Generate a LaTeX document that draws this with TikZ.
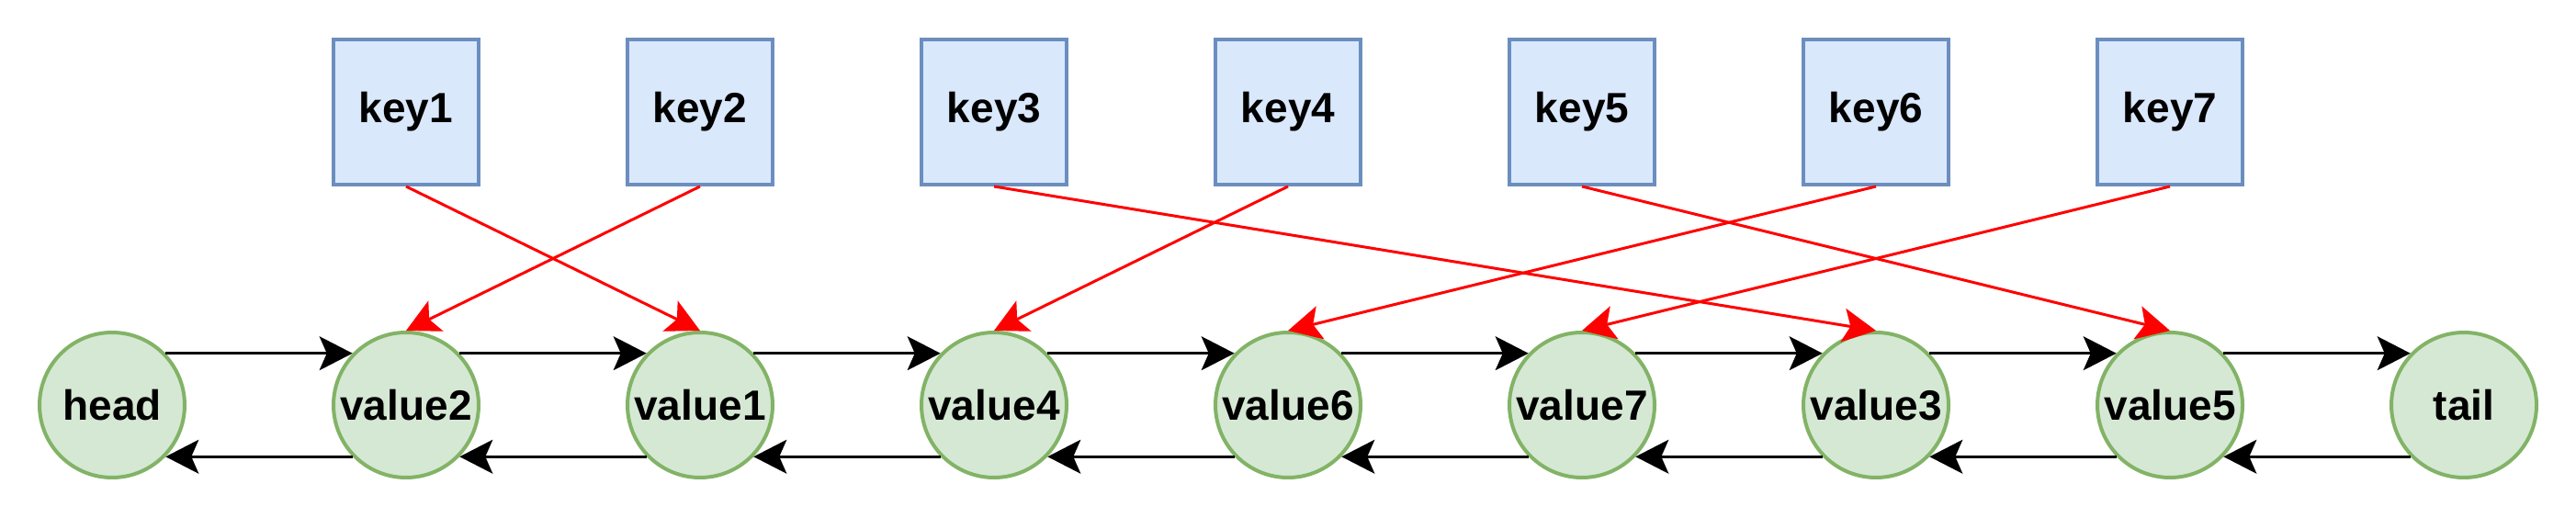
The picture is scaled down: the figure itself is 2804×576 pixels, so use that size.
\documentclass[tikz,border=0pt]{standalone}
\usepackage{fontspec}
\setmainfont{Liberation Sans}
\usetikzlibrary{arrows.meta}
\definecolor{keyfill}{HTML}{DAE8FC}
\definecolor{keydraw}{HTML}{6C8EBF}
\definecolor{valfill}{HTML}{D5E8D4}
\definecolor{valdraw}{HTML}{82B366}
\definecolor{ptrred}{HTML}{FF0000}
\begin{document}
\begin{tikzpicture}[x=0.25pt,y=-0.25pt,
  lbl/.style={font=\fontsize{11.5}{13}\selectfont\bfseries, text=black},
  keybox/.style={lbl, draw=keydraw, fill=keyfill, line width=0.9pt, minimum width=39.6pt, minimum height=39.6pt, inner sep=0pt},
  valnode/.style={lbl, circle, draw=valdraw, fill=valfill, line width=1pt, minimum size=39.5pt, inner sep=0pt},
  link/.style={line width=0.75pt, draw=black, -{Stealth[length=9pt,width=9.2pt,inset=2pt]}},
  ptr/.style={line width=0.75pt, draw=ptrred, -{Stealth[length=9pt,width=9.2pt,inset=2pt,fill=ptrred]}}]
\useasboundingbox (0,0) rectangle (2804,576);
% list nodes
\node[valnode] (head) at (122,441) {head};
\node[valnode] (v2) at (442,441) {value2};
\node[valnode] (v1) at (762,441) {value1};
\node[valnode] (v4) at (1082,441) {value4};
\node[valnode] (v6) at (1402,441) {value6};
\node[valnode] (v7) at (1722,441) {value7};
\node[valnode] (v3) at (2042,441) {value3};
\node[valnode] (v5) at (2362,441) {value5};
\node[valnode] (tail) at (2682,441) {tail};
% keys
\node[keybox] (k1) at (442,122) {key1};
\node[keybox] (k2) at (762,122) {key2};
\node[keybox] (k3) at (1082,122) {key3};
\node[keybox] (k4) at (1402,122) {key4};
\node[keybox] (k5) at (1722,122) {key5};
\node[keybox] (k6) at (2042,122) {key6};
\node[keybox] (k7) at (2362,122) {key7};
% forward / backward links
\foreach \a/\b in {head/v2, v2/v1, v1/v4, v4/v6, v6/v7, v7/v3, v3/v5, v5/tail}{
  \draw[link] (\a.44) -- (\b.136);
  \draw[link] (\b.224) -- (\a.316);
}
% key pointers
\foreach \k/\v in {k1/v1, k2/v2, k3/v3, k4/v4, k5/v5, k6/v6, k7/v7}{
  \draw[ptr] (\k.south) -- (\v.north);
}
\end{tikzpicture}
\end{document}
